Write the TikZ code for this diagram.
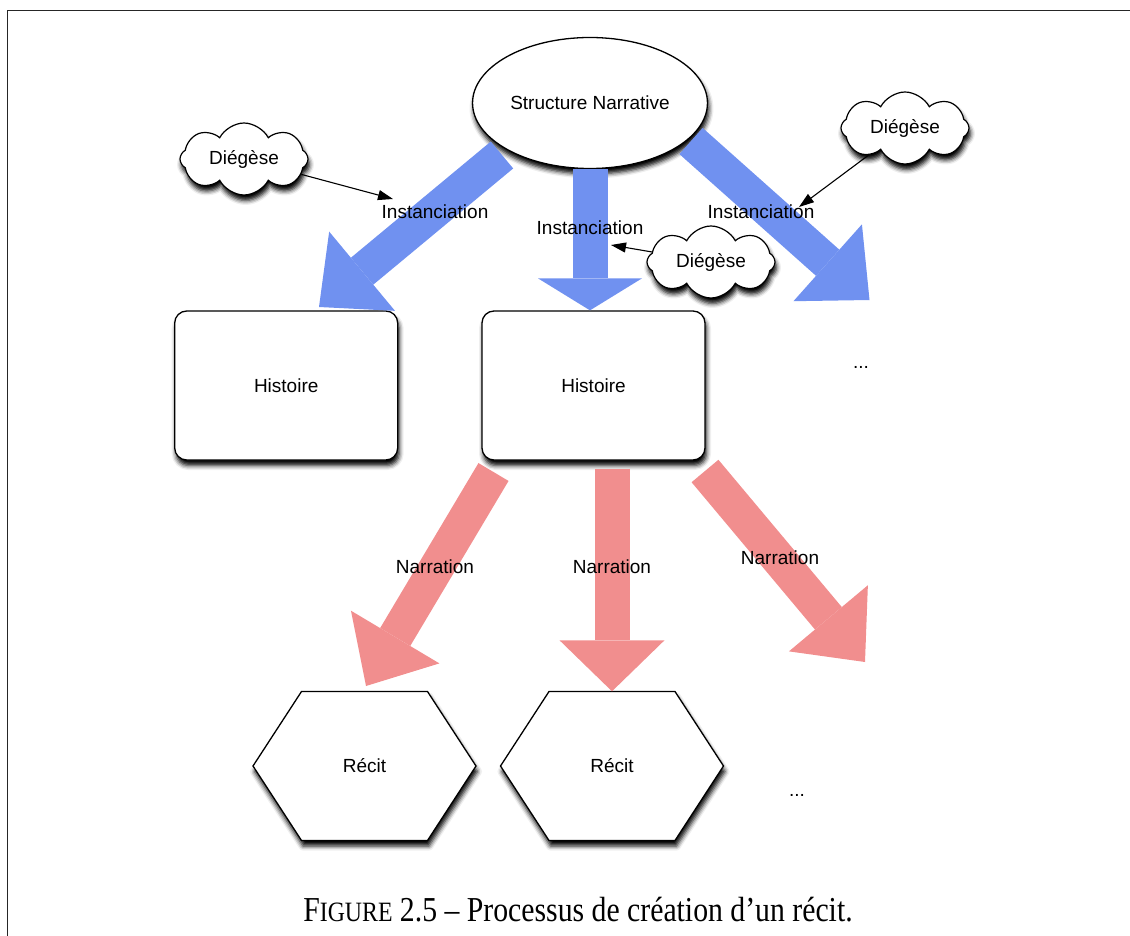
\documentclass[tikz,border=0pt]{standalone}
\usepackage{fontspec}
\setmainfont{Liberation Sans}
\newfontfamily\capfont[FakeStretch=0.85]{Liberation Serif}
\usepackage{tikz}
\usetikzlibrary{shapes,arrows.meta,shadows.blur,calc}
\usetikzlibrary{positioning}
\definecolor{clrBorders}{rgb}{0.15,0.15,0.15}
\definecolor{clrInst}{RGB}{112,145,240}
\definecolor{clrNarr}{RGB}{241,142,142}
\tikzstyle{ombre}=[blur shadow={shadow xshift=1.5pt, shadow yshift=-5.5pt, shadow blur radius=4.5pt, shadow opacity=100}]
\tikzstyle{box_style0}=[draw, line width=1.3pt, fill=white, anchor=center, text centered, font=\fontsize{19}{22}\selectfont]
\tikzstyle{box_style}=[box_style0, ombre]
\tikzstyle{structure}=[box_style, ellipse, minimum width=230pt, minimum height=131pt]
\tikzstyle{histoire}=[box_style, rounded corners=12pt, minimum width=223pt, minimum height=149pt]
\tikzstyle{recit}=[anchor=center, font=\fontsize{19}{22}\selectfont, minimum width=223pt, minimum height=149pt]
\tikzstyle{hexa}=[draw, line width=1.3pt, fill=white, ombre]
\tikzstyle{nuage}=[box_style, line width=1.2pt, cloud, cloud puffs=8, cloud puff arc=125, cloud ignores aspect, minimum width=128pt, minimum height=72pt, inner sep=0pt]
\tikzstyle{etiquette}=[font=\fontsize{19}{22}\selectfont, inner sep=0pt]
\tikzstyle{fleche_inst}=[draw=clrInst, line width=35pt, -{Triangle[length=56pt, width=103pt, line width=0pt]}]
\tikzstyle{fleche_narr}=[draw=clrNarr, line width=35pt, -{Triangle[length=57pt, width=103pt, line width=0pt]}]
\tikzstyle{pointeur}=[black, line width=1.1pt, -{Triangle[length=15pt, width=10pt, fill=black]}]

\begin{document}
\begin{tikzpicture}[x=1pt, y=-1pt]
		\useasboundingbox (0,0) rectangle (1130,936);
		\draw[clrBorders, line width=1.3pt] (1130,10.5) -- (7.5,10.5) -- (7.5,936);

		\node[structure] (S) at (590,103) {Structure Narrative} ;

		\node[histoire] (H2) at (593.5,385.5) {Histoire} ;
		\node[histoire, left=83pt of H2] (H1) {Histoire} ;
		\node[etiquette, anchor=base] (P1) at (861,368) {...} ;

		% hexagones des recits
		\coordinate (R1c) at (364.5,766) ;
		\coordinate (R2c) at (612,766) ;
		\foreach \c in {R1c,R2c}
			\draw[hexa] ($(\c)+(-63,-74.5)$) -- ($(\c)+(63,-74.5)$) -- ($(\c)+(111.5,0)$)
				-- ($(\c)+(63,74.5)$) -- ($(\c)+(-63,74.5)$) -- ($(\c)+(-111.5,0)$) -- cycle ;
		\node[recit] (R1) at (R1c) {Récit} ;
		\node[recit] (R2) at (R2c) {Récit} ;
		\node[etiquette, anchor=base] (P2) at (797,796) {...} ;

		\node[nuage] (D1) at (244,159) {Diégèse} ;
		\node[nuage] (D2) at (905,128) {Diégèse} ;
		\node[nuage] (D3) at (711,262) {Diégèse} ;

		% fleches d'instanciation
		\coordinate (A1) at (502,155) ;
		\coordinate (B1) at (319,307) ;
		\coordinate (A3) at (691,141) ;
		\coordinate (B3) at (869.5,300) ;
		\draw[fleche_inst] (A1) -- (B1) ;
		\draw[fleche_inst, -{Triangle[length=32pt, width=104pt, line width=0pt]}] (S.south) -- (S.south |- H2.north) ;
		\draw[fleche_inst] (A3) -- (B3) ;

		% fleches de narration
		\coordinate (E1) at (493.5,472) ;
		\coordinate (F1) at (366,686) ;
		\coordinate (E3) at (705,471) ;
		\coordinate (F3) at (865,662) ;
		\draw[fleche_narr] (E1) -- (F1) ;
		\draw[fleche_narr, shorten <=8pt, -{Triangle[length=51pt, width=105pt, line width=0pt]}] (R2.north |- H2.south) -- (R2.north) ;
		\draw[fleche_narr] (E3) -- (F3) ;

		\node[etiquette] (I1) at (435,212) {Instanciation} ;
		\node[etiquette] (I2) at (590,228) {Instanciation} ;
		\node[etiquette] (I3) at (761,212) {Instanciation} ;
		\node[etiquette] (N1) at (435,567) {Narration} ;
		\node[etiquette] (N2) at (612,567) {Narration} ;
		\node[etiquette] (N3) at (780,558) {Narration} ;

		\coordinate (T1) at (393,199) ;
		\coordinate (T2) at (611,245) ;
		\coordinate (T3) at (799,207) ;
		\draw[pointeur] (D1) -- (T1) ;
		\draw[pointeur] (D3) -- (T2) ;
		\draw[pointeur] (D2) -- (T3) ;

		\node[anchor=base] (C) at (578,921) {\capfont\fontsize{35}{40}\selectfont F{\fontsize{28}{30}\selectfont IGURE} 2.5 – Processus de création d’un récit.} ;
\end{tikzpicture}
\end{document}
